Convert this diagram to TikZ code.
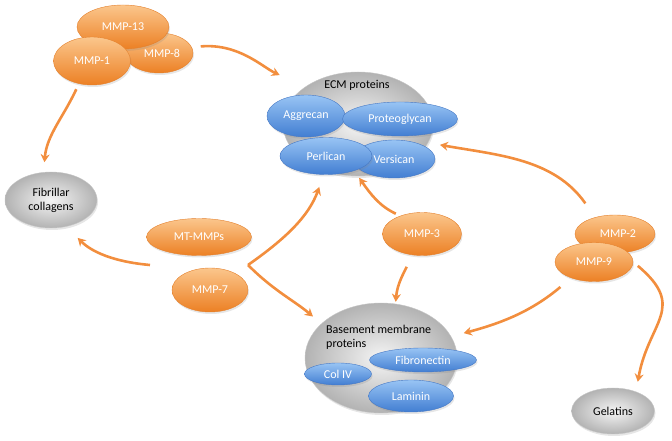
\documentclass[tikz,border=0pt]{standalone}
\usepackage{fontspec}
\setmainfont{Carlito}
\usetikzlibrary{arrows.meta, shapes.geometric, shadows}
\definecolor{mmptop}{RGB}{251,198,140}
\definecolor{mmpbot}{RGB}{236,128,36}
\definecolor{mmpline}{RGB}{228,128,44}
\definecolor{prottop}{RGB}{152,196,244}
\definecolor{protbot}{RGB}{66,126,210}
\definecolor{protline}{RGB}{70,120,196}
\definecolor{arrowc}{RGB}{242,142,62}

\begin{document}
\begin{tikzpicture}[
  x=1pt, y=1pt,
  every node/.style={font=\fontsize{12}{14}\selectfont, align=center, inner sep=0pt},
  ell/.style 2 args={ellipse, minimum width=#1pt, minimum height=#2pt},
  shdw/.style={drop shadow={opacity=0.2, shadow xshift=1pt, shadow yshift=-2pt}},
  mmp/.style={draw=mmpline, top color=mmptop, bottom color=mmpbot, text=white, shdw},
  prot/.style={draw=protline, top color=prottop, bottom color=protbot, text=white, shdw},
  grp/.style={draw=gray!45, inner color=gray!8, outer color=gray!60, text=black, shdw},
  arr/.style={-{Stealth[length=8pt, width=9pt]}, line width=2.6pt, arrowc},
]
  \useasboundingbox (0,0) rectangle (672,441);

  % collagenases
  \node[mmp, ell={68}{40}] (mmp8)  at (159,388) {\hspace{6pt}MMP-8};
  \node[mmp, ell={92}{44}] (mmp13) at (123,414) {MMP-13};
  \node[mmp, ell={77}{48}] (mmp1)  at (92,380)  {MMP-1};

  \node[grp, ell={92}{56}] (fib) at (51,241) {Fibrillar\\collagens};

  % ECM proteins
  \node[grp, ell={150}{104}] (ecm) at (358,317) {};
  \node (ecmlbl) at (357,356) {ECM proteins};
  \node[prot, ell={78}{42}]  (aggr) at (306,325) {Aggrecan};
  \node[prot, ell={115}{34}] (prtg) at (400,322) {Proteoglycan};
  \node[prot, ell={82}{38}]  (vers) at (394,282) {Versican};
  \node[prot, ell={92}{37}]  (perl) at (326,285) {Perlican};

  \node[mmp, ell={105}{37}] (mtmmp) at (199,204) {MT-MMPs};
  \node[mmp, ell={76}{44}]  (mmp7)  at (210,151) {MMP-7};
  \node[mmp, ell={79}{43}]  (mmp3)  at (422,207) {MMP-3};

  % gelatinases
  \node[mmp, ell={80}{38}] (mmp2) at (615,207) {\hspace{6pt}MMP-2};
  \node[mmp, ell={78}{39}] (mmp9) at (594,179) {MMP-9};
  \node[grp, ell={83}{46}] (gel)  at (613,30)  {Gelatins};

  % basement membrane
  \node[grp, ell={152}{110}] (bm) at (381,83) {};
  \node[anchor=west, align=left] (bmlbl) at (326,104) {Basement membrane\\proteins};
  \node[prot, ell={107}{24}] (fibr) at (423,81) {Fibronectin};
  \node[prot, ell={67}{22}]  (col)  at (338,67) {Col IV};
  \node[prot, ell={85}{32}]  (lam)  at (411,45) {Laminin};

  \coordinate (forkl) at (150,176);
  \coordinate (forkr) at (248,176);

  \draw[arr, shorten <=9pt, shorten >=28pt] (mmp8.10) to[out=5, in=155] (ecm.145);
  \draw[arr, shorten <=6pt, shorten >=10pt] (mmp1.240) to[out=245, in=85] (fib.105);
  \draw[arr, shorten >=16pt] (forkl) to[out=175, in=-45] (fib.-60);
  \draw[arr, shorten >=17pt] (forkr) to[out=35, in=-110] (ecm.235);
  \draw[arr, shorten >=11pt] (forkr) to[out=-45, in=140] (bm.150);
  \draw[arr, shorten <=5pt, shorten >=2pt] (mmp3.140) to[out=155, in=-55] (ecm.south);
  \draw[arr, shorten <=13pt, shorten >=2pt] (mmp3.245) to[out=-115, in=85] (bm.75);
  \draw[arr, shorten <=17pt, shorten >=12pt] (mmp2.140) to[out=125, in=-10] (ecm.-15);
  \draw[arr, shorten <=14pt, shorten >=13pt] (mmp9.215) to[out=-140, in=15] (bm.17);
  \draw[arr, shorten <=6pt, shorten >=10pt] (mmp9.east) to[out=-40, in=80, looseness=1.4] (gel.40);
\end{tikzpicture}
\end{document}
